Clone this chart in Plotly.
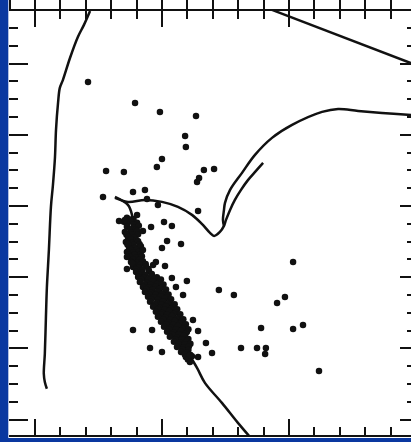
import plotly.graph_objects as go

INK = "#111111"
FRAME_BLUE = "#0a38a0"

# Blue edge of the zero-age sequence (B-V, M_V)
edge_bv = [0.217, 0.193, 0.169, 0.138, 0.110, 0.098, 0.091, 0.083, 0.079,
           0.071, 0.063, 0.055, 0.047, 0.043, 0.039, 0.035, 0.039, 0.047]
edge_mv = [-3.48, -3.09, -2.75, -2.16, -1.54, -1.32, -0.90, -0.14, 0.62,
           1.40, 2.02, 3.23, 4.30, 5.20, 6.15, 6.71, 6.94, 7.13]

# Straight reference line in the upper right
ref_bv = [0.933, 1.500]
ref_mv = [-3.51, -1.96]

# Isochrone: turnoff, hook and inner branch
hook_bv = [0.315, 0.366, 0.433, 0.500, 0.563, 0.618, 0.657, 0.689, 0.705,
           0.728, 0.744, 0.752, 0.768, 0.787, 0.811, 0.839, 0.870, 0.898]
hook_mv = [1.770, 1.882, 1.826, 1.882, 2.022, 2.247, 2.500, 2.753, 2.837,
           2.725, 2.556, 2.388, 2.107, 1.826, 1.545, 1.264, 1.011, 0.787]

# Isochrone: outer subgiant / giant branch
giant_bv = [0.744, 0.740, 0.744, 0.748, 0.768, 0.815, 0.866, 0.933, 1.012,
            1.130, 1.193, 1.272, 1.366, 1.480, 1.500]
giant_mv = [2.556, 2.388, 2.107, 1.910, 1.545, 1.067, 0.562, 0.084, -0.281,
            -0.646, -0.730, -0.674, -0.618, -0.562, -0.548]

# Isochrone: lower main sequence
ms_bv = [0.315, 0.366, 0.382, 0.386, 0.398, 0.421, 0.461, 0.504, 0.551,
         0.598, 0.638, 0.669, 0.736, 0.799, 0.846]
ms_mv = [1.742, 1.966, 2.247, 2.669, 3.230, 3.792, 4.354, 4.916, 5.478,
         6.067, 6.545, 6.966, 7.528, 8.090, 8.483]

# Cluster members along the main-sequence band
band_bv = [0.362, 0.388, 0.375,
           0.350, 0.374, 0.402, 0.362, 0.388,
           0.362, 0.390, 0.409, 0.376, 0.398,
           0.354, 0.378, 0.402, 0.360, 0.384, 0.406,
           0.366, 0.390, 0.378, 0.400,
           0.358, 0.382, 0.406, 0.364, 0.388, 0.412,
           0.370, 0.394, 0.417, 0.376, 0.400,
           0.362, 0.386, 0.409, 0.368, 0.392, 0.416,
           0.374, 0.398, 0.421, 0.386, 0.410,
           0.378, 0.402, 0.425, 0.390, 0.414, 0.436,
           0.386, 0.409, 0.437, 0.398, 0.423, 0.447,
           0.398, 0.421, 0.449, 0.408, 0.434, 0.460,
           0.406, 0.429, 0.457, 0.480, 0.418, 0.445, 0.470, 0.496,
           0.413, 0.441, 0.465, 0.488, 0.430, 0.456, 0.482, 0.506,
           0.425, 0.449, 0.476, 0.500, 0.438, 0.462, 0.490, 0.516,
           0.433, 0.457, 0.484, 0.512, 0.450, 0.476, 0.500, 0.526,
           0.445, 0.469, 0.496, 0.520, 0.458, 0.484, 0.510, 0.536,
           0.453, 0.480, 0.504, 0.531, 0.472, 0.498, 0.524, 0.550,
           0.465, 0.492, 0.516, 0.543, 0.484, 0.510, 0.536, 0.560,
           0.476, 0.500, 0.528, 0.555, 0.494, 0.520, 0.546, 0.572,
           0.484, 0.512, 0.539, 0.567, 0.504, 0.532, 0.558, 0.584,
           0.496, 0.524, 0.551, 0.575, 0.516, 0.544, 0.570, 0.594,
           0.508, 0.535, 0.563, 0.587, 0.528, 0.556, 0.582, 0.604,
           0.520, 0.547, 0.575, 0.598, 0.540, 0.566, 0.592,
           0.531, 0.559, 0.587, 0.552, 0.578, 0.604,
           0.547, 0.571, 0.598, 0.566, 0.590, 0.612,
           0.559, 0.583, 0.606, 0.580, 0.604,
           0.575, 0.598, 0.590, 0.612,
           0.594, 0.618, 0.602,
           0.610]
band_mv = [2.33, 2.36, 2.38,
           2.44, 2.42, 2.47, 2.51, 2.52,
           2.58, 2.61, 2.55, 2.65, 2.66,
           2.73, 2.75, 2.70, 2.80, 2.81, 2.79,
           2.87, 2.89, 2.94, 2.95,
           3.01, 3.04, 2.99, 3.08, 3.09, 3.07,
           3.15, 3.18, 3.13, 3.22, 3.23,
           3.29, 3.31, 3.27, 3.36, 3.37, 3.35,
           3.43, 3.45, 3.41, 3.50, 3.51,
           3.57, 3.60, 3.55, 3.64, 3.65, 3.63,
           3.71, 3.73, 3.69, 3.78, 3.79, 3.77,
           3.85, 3.88, 3.83, 3.92, 3.93, 3.91,
           3.99, 4.02, 3.97, 4.00, 4.06, 4.07, 4.05, 4.06,
           4.13, 4.16, 4.11, 4.14, 4.20, 4.21, 4.19, 4.20,
           4.27, 4.29, 4.25, 4.28, 4.34, 4.35, 4.33, 4.34,
           4.41, 4.44, 4.39, 4.42, 4.48, 4.49, 4.47, 4.48,
           4.55, 4.57, 4.53, 4.56, 4.62, 4.63, 4.61, 4.62,
           4.69, 4.72, 4.67, 4.70, 4.76, 4.77, 4.75, 4.76,
           4.83, 4.86, 4.81, 4.84, 4.90, 4.91, 4.89, 4.90,
           4.97, 5.00, 4.95, 4.98, 5.04, 5.05, 5.03, 5.04,
           5.11, 5.14, 5.09, 5.12, 5.18, 5.19, 5.17, 5.18,
           5.25, 5.28, 5.23, 5.26, 5.32, 5.33, 5.31, 5.32,
           5.39, 5.42, 5.37, 5.40, 5.46, 5.47, 5.45, 5.46,
           5.53, 5.56, 5.51, 5.54, 5.60, 5.61, 5.59,
           5.67, 5.70, 5.65, 5.74, 5.75, 5.73,
           5.81, 5.84, 5.79, 5.88, 5.89, 5.87,
           5.96, 5.98, 5.94, 6.03, 6.04,
           6.10, 6.12, 6.17, 6.18,
           6.24, 6.22, 6.31,
           6.38]

# Stars off the band (blue stragglers, evolved stars, field stars)
field_bv = [0.209, 0.394, 0.492, 0.634, 0.591, 0.594, 0.500, 0.480, 0.280,
            0.350, 0.665, 0.705, 0.638, 0.646, 0.433, 0.386, 0.268, 0.441,
            0.484, 0.642, 0.331, 0.354, 0.402, 0.425, 0.457, 0.508, 0.539,
            0.520, 0.500, 0.575, 0.425, 0.366, 0.362, 0.382, 0.476, 0.512,
            0.362, 0.465, 0.539, 0.598, 0.555, 0.583, 0.724, 0.783, 1.016,
            0.953, 0.984, 0.890, 1.016, 1.055, 0.673, 0.697, 0.811, 0.874,
            0.909, 0.906, 1.118, 0.386, 0.461, 0.622, 0.642, 0.453, 0.500,
            0.610, 0.642]
field_mv = [-1.489, -0.899, -0.646, -0.534, 0.028, 0.337, 0.674, 0.899, 1.011,
            1.039, 0.983, 0.955, 1.320, 1.208, 1.545, 1.601, 1.742, 1.798,
            1.966, 2.135, 2.416, 2.388, 2.247, 2.697, 2.584, 2.444, 2.556,
            2.978, 3.174, 3.062, 3.230, 3.062, 3.427, 3.596, 3.567, 3.680,
            3.764, 3.652, 4.017, 4.101, 4.270, 4.494, 4.354, 4.494, 3.567,
            4.719, 4.551, 5.421, 5.449, 5.337, 5.843, 6.124, 5.983, 5.983,
            5.983, 6.152, 6.629, 5.478, 5.478, 5.197, 5.506, 5.983, 6.096,
            6.180, 6.236]

X_RANGE = [-0.102, 1.480]
Y_RANGE = [8.43, -3.48]

fig = go.Figure()

line_style = dict(color=INK, width=2.5)
for bv, mv in [(edge_bv, edge_mv), (ref_bv, ref_mv), (hook_bv, hook_mv),
               (giant_bv, giant_mv), (ms_bv, ms_mv)]:
    fig.add_trace(go.Scatter(x=bv, y=mv, mode="lines", line=line_style,
                             line_shape="spline", hoverinfo="skip",
                             showlegend=False))

dot_style = dict(color=INK, size=6.5, line=dict(width=0))
fig.add_trace(go.Scatter(x=band_bv, y=band_mv, mode="markers",
                         marker=dot_style, showlegend=False))
fig.add_trace(go.Scatter(x=field_bv, y=field_mv, mode="markers",
                         marker=dot_style, showlegend=False))

# Empty traces so the overlaid top and right tick axes are rendered
fig.add_trace(go.Scatter(x=[None], y=[None], xaxis="x2", yaxis="y",
                         showlegend=False, hoverinfo="skip"))
fig.add_trace(go.Scatter(x=[None], y=[None], xaxis="x", yaxis="y2",
                         showlegend=False, hoverinfo="skip"))

axis_common = dict(showgrid=False, zeroline=False, showticklabels=False,
                   tickcolor=INK, tickwidth=2)

fig.update_layout(
    width=411, height=442,
    margin=dict(l=9, r=0, t=11, b=7, pad=0),
    paper_bgcolor="white", plot_bgcolor="white",
    xaxis=dict(range=X_RANGE, ticks="inside", tick0=0, dtick=0.5, ticklen=16,
               showline=True, linewidth=2, linecolor=INK, mirror="ticks",
               minor=dict(ticks="inside", tick0=0, dtick=0.1, ticklen=8,
                          tickwidth=2, tickcolor=INK),
               **axis_common),
    xaxis2=dict(range=X_RANGE, overlaying="x", side="top", anchor="y",
                ticks="outside", tick0=0, dtick=0.5, ticklen=11, showline=False,
                minor=dict(ticks="outside", tick0=0, dtick=0.1, ticklen=11,
                           tickwidth=2, tickcolor=INK),
                **axis_common),
    yaxis=dict(range=Y_RANGE, ticks="inside", tick0=0, dtick=2, ticklen=19,
               showline=False,
               minor=dict(ticks="inside", tick0=0, dtick=0.5, ticklen=9,
                          tickwidth=2, tickcolor=INK),
               **axis_common),
    yaxis2=dict(range=Y_RANGE, overlaying="y", side="right", anchor="x",
                ticks="inside", tick0=0, dtick=2, ticklen=11, showline=False,
                minor=dict(ticks="inside", tick0=0, dtick=0.5, ticklen=4,
                           tickwidth=2, tickcolor=INK),
                **axis_common),
    shapes=[
        dict(type="rect", xref="paper", yref="paper", x0=-0.05, x1=-0.0017,
             y0=-0.05, y1=1.05, fillcolor=FRAME_BLUE, line=dict(width=0),
             layer="above"),
        dict(type="rect", xref="paper", yref="paper", x0=-0.05, x1=1.05,
             y0=-0.05, y1=-0.0071, fillcolor=FRAME_BLUE, line=dict(width=0),
             layer="above"),
    ],
)

fig.write_html("out.html")
